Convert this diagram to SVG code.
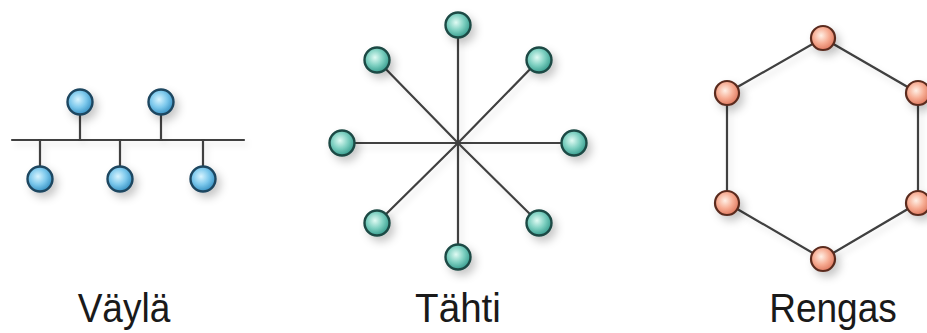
<svg xmlns="http://www.w3.org/2000/svg" width="927" height="333" viewBox="0 0 927 333">
<defs>
<radialGradient id="gBlue" cx="0.42" cy="0.4" r="0.6">
<stop offset="0" stop-color="#d8f4ff"/>
<stop offset="0.55" stop-color="#7cc8ec"/>
<stop offset="1" stop-color="#3a93c4"/>
</radialGradient>
<radialGradient id="gTeal" cx="0.42" cy="0.4" r="0.6">
<stop offset="0" stop-color="#e0fbf4"/>
<stop offset="0.55" stop-color="#7ccfc0"/>
<stop offset="1" stop-color="#3a9e90"/>
</radialGradient>
<radialGradient id="gOrange" cx="0.42" cy="0.4" r="0.6">
<stop offset="0" stop-color="#fff0e6"/>
<stop offset="0.55" stop-color="#f7ad94"/>
<stop offset="1" stop-color="#e07c62"/>
</radialGradient>
<filter id="sh" x="-50%" y="-50%" width="220%" height="220%">
<feDropShadow dx="4" dy="5" stdDeviation="4" flood-color="#000" flood-opacity="0.22"/>
</filter>
<filter id="lsh" x="-10%" y="-10%" width="120%" height="120%">
<feDropShadow dx="3" dy="4" stdDeviation="3" flood-color="#000" flood-opacity="0.12"/>
</filter>
</defs>
<style>
.ln{stroke:#3f3f3f;stroke-width:2.2;fill:none;stroke-linecap:round}
.nb{fill:url(#gBlue);stroke:#1f4660;stroke-width:2.4;filter:url(#sh)}
.nt{fill:url(#gTeal);stroke:#1c4a44;stroke-width:2.4;filter:url(#sh)}
.no{fill:url(#gOrange);stroke:#5a2a1e;stroke-width:2.2;filter:url(#sh)}
.lbl{font-family:"Liberation Sans",Arial,sans-serif;font-size:39px;fill:#1a1a1a;text-anchor:middle}
</style>
<g id="connectors" filter="url(#lsh)">
<g id="bus-lines">
<line class="ln" x1="12" y1="140" x2="244" y2="140" stroke-width="2.6"/>
<line class="ln" x1="80" y1="102" x2="80" y2="140"/>
<line class="ln" x1="161" y1="102" x2="161" y2="140"/>
<line class="ln" x1="40" y1="140" x2="40" y2="179"/>
<line class="ln" x1="120" y1="140" x2="120" y2="179"/>
<line class="ln" x1="203" y1="140" x2="203" y2="179"/>
</g>
<g id="star-lines">
<line class="ln" x1="458" y1="143" x2="458" y2="25"/>
<line class="ln" x1="458" y1="143" x2="458" y2="257"/>
<line class="ln" x1="458" y1="143" x2="342" y2="143"/>
<line class="ln" x1="458" y1="143" x2="574" y2="143"/>
<line class="ln" x1="458" y1="143" x2="377" y2="60"/>
<line class="ln" x1="458" y1="143" x2="539" y2="60"/>
<line class="ln" x1="458" y1="143" x2="377" y2="223"/>
<line class="ln" x1="458" y1="143" x2="539" y2="223"/>
</g>
<g id="ring-lines">
<polygon class="ln" points="823,38 918,93 918,203 823,259 727,203 727,93"/>
</g>
</g>
<g id="bus-n1"><circle class="nb" cx="80" cy="102" r="12.5"/></g>
<g id="bus-n2"><circle class="nb" cx="161" cy="102" r="12.5"/></g>
<g id="bus-n3"><circle class="nb" cx="40" cy="179" r="12.5"/></g>
<g id="bus-n4"><circle class="nb" cx="120" cy="179" r="12.5"/></g>
<g id="bus-n5"><circle class="nb" cx="203" cy="179" r="12.5"/></g>
<g id="star-n1"><circle class="nt" cx="458" cy="25" r="12.5"/></g>
<g id="star-n2"><circle class="nt" cx="539" cy="60" r="12.5"/></g>
<g id="star-n3"><circle class="nt" cx="574" cy="143" r="12.5"/></g>
<g id="star-n4"><circle class="nt" cx="539" cy="223" r="12.5"/></g>
<g id="star-n5"><circle class="nt" cx="458" cy="257" r="12.5"/></g>
<g id="star-n6"><circle class="nt" cx="377" cy="223" r="12.5"/></g>
<g id="star-n7"><circle class="nt" cx="342" cy="143" r="12.5"/></g>
<g id="star-n8"><circle class="nt" cx="377" cy="60" r="12.5"/></g>
<g id="ring-n1"><circle class="no" cx="823" cy="38" r="12"/></g>
<g id="ring-n2"><circle class="no" cx="918" cy="93" r="12"/></g>
<g id="ring-n3"><circle class="no" cx="918" cy="203" r="12"/></g>
<g id="ring-n4"><circle class="no" cx="823" cy="259" r="12"/></g>
<g id="ring-n5"><circle class="no" cx="727" cy="203" r="12"/></g>
<g id="ring-n6"><circle class="no" cx="727" cy="93" r="12"/></g>
<g id="labels">
<text class="lbl" transform="translate(124,322) scale(0.95,1.06)">Väylä</text>
<text class="lbl" transform="translate(458,322) scale(0.99,1.06)">Tähti</text>
<text class="lbl" transform="translate(833,322) scale(0.95,1.06)">Rengas</text>
</g>
</svg>
